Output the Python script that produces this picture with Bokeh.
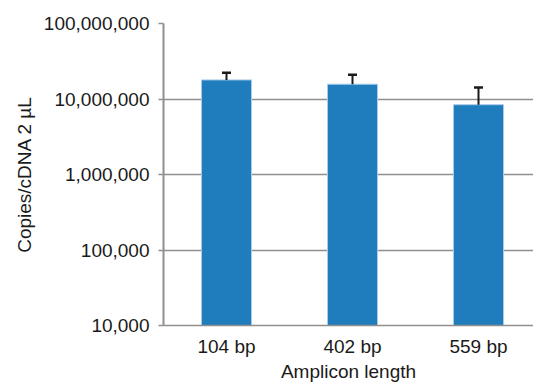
from bokeh.plotting import figure
from bokeh.models import ColumnDataSource, FixedTicker, NumeralTickFormatter, Range1d
from bokeh.embed import file_html
from bokeh.resources import INLINE

categories = ["104 bp", "402 bp", "559 bp"]
copies = [17900000, 15700000, 8400000]
errors = [4300000, 5200000, 5800000]
y_ticks = [1e4, 1e5, 1e6, 1e7, 1e8]

xs = [i + 0.5 for i in range(len(categories))]
src = ColumnDataSource(dict(
    x=xs, top=copies, bottom=[y_ticks[0]] * len(copies),
    err_top=[c + e for c, e in zip(copies, errors)],
))

p = figure(output_backend="svg", toolbar_location=None,
           y_axis_type="log", frame_width=370, frame_height=302,
           x_range=Range1d(0, 370 / 126), y_range=Range1d(1e4, 1e8),
           min_border_left=163, min_border_top=23, min_border_right=0,
           min_border_bottom=58)
p.outline_line_color = None
p.background_fill_color = "white"

p.vbar(x="x", top="top", bottom="bottom", width=50 / 126, source=src,
       fill_color="#1f7dbe", line_color="#a9cbe8", line_width=1)
p.segment(x0="x", y0="top", x1="x", y1="err_top", source=src,
          line_color="#1a1a1a", line_width=2)
p.dash(x="x", y="err_top", size=9, source=src, line_color="#1a1a1a",
       line_width=2.5, angle=0)

font = "Liberation Sans"
p.xgrid.visible = False
p.ygrid.grid_line_color = "#8f8f8f"
p.ygrid.grid_line_width = 1.5

p.yaxis.ticker = FixedTicker(ticks=y_ticks, minor_ticks=[])
p.yaxis.formatter = NumeralTickFormatter(format="0,0")
p.yaxis.axis_line_color = "#8f8f8f"
p.yaxis.axis_line_width = 2
p.yaxis.major_tick_line_color = "#8f8f8f"
p.yaxis.major_tick_line_width = 1.5
p.yaxis.major_tick_out = 5
p.yaxis.major_tick_in = 0
p.yaxis.major_label_standoff = 9
p.yaxis.axis_label = "Copies/cDNA 2 µL"
p.yaxis.axis_label_standoff = 6

p.xaxis.ticker = FixedTicker(ticks=xs)
p.xaxis.major_label_overrides = {x: c for x, c in zip(xs, categories)}
p.xaxis.axis_line_color = "#8f8f8f"
p.xaxis.axis_line_width = 1.5
p.xaxis.major_tick_line_color = None
p.xaxis.minor_tick_line_color = None
p.xaxis.major_tick_out = 0
p.xaxis.major_label_standoff = 10
p.xaxis.axis_label = "Amplicon length"
p.xaxis.axis_label_standoff = 1

for ax in (p.xaxis, p.yaxis):
    ax.major_label_text_font = font
    ax.major_label_text_font_size = "19px"
    ax.major_label_text_color = "#1a1a1a"
    ax.axis_label_text_font = font
    ax.axis_label_text_font_size = "19px"
    ax.axis_label_text_font_style = "normal"
    ax.axis_label_text_color = "#1a1a1a"

open("out.html", "w").write(file_html(p, INLINE))
